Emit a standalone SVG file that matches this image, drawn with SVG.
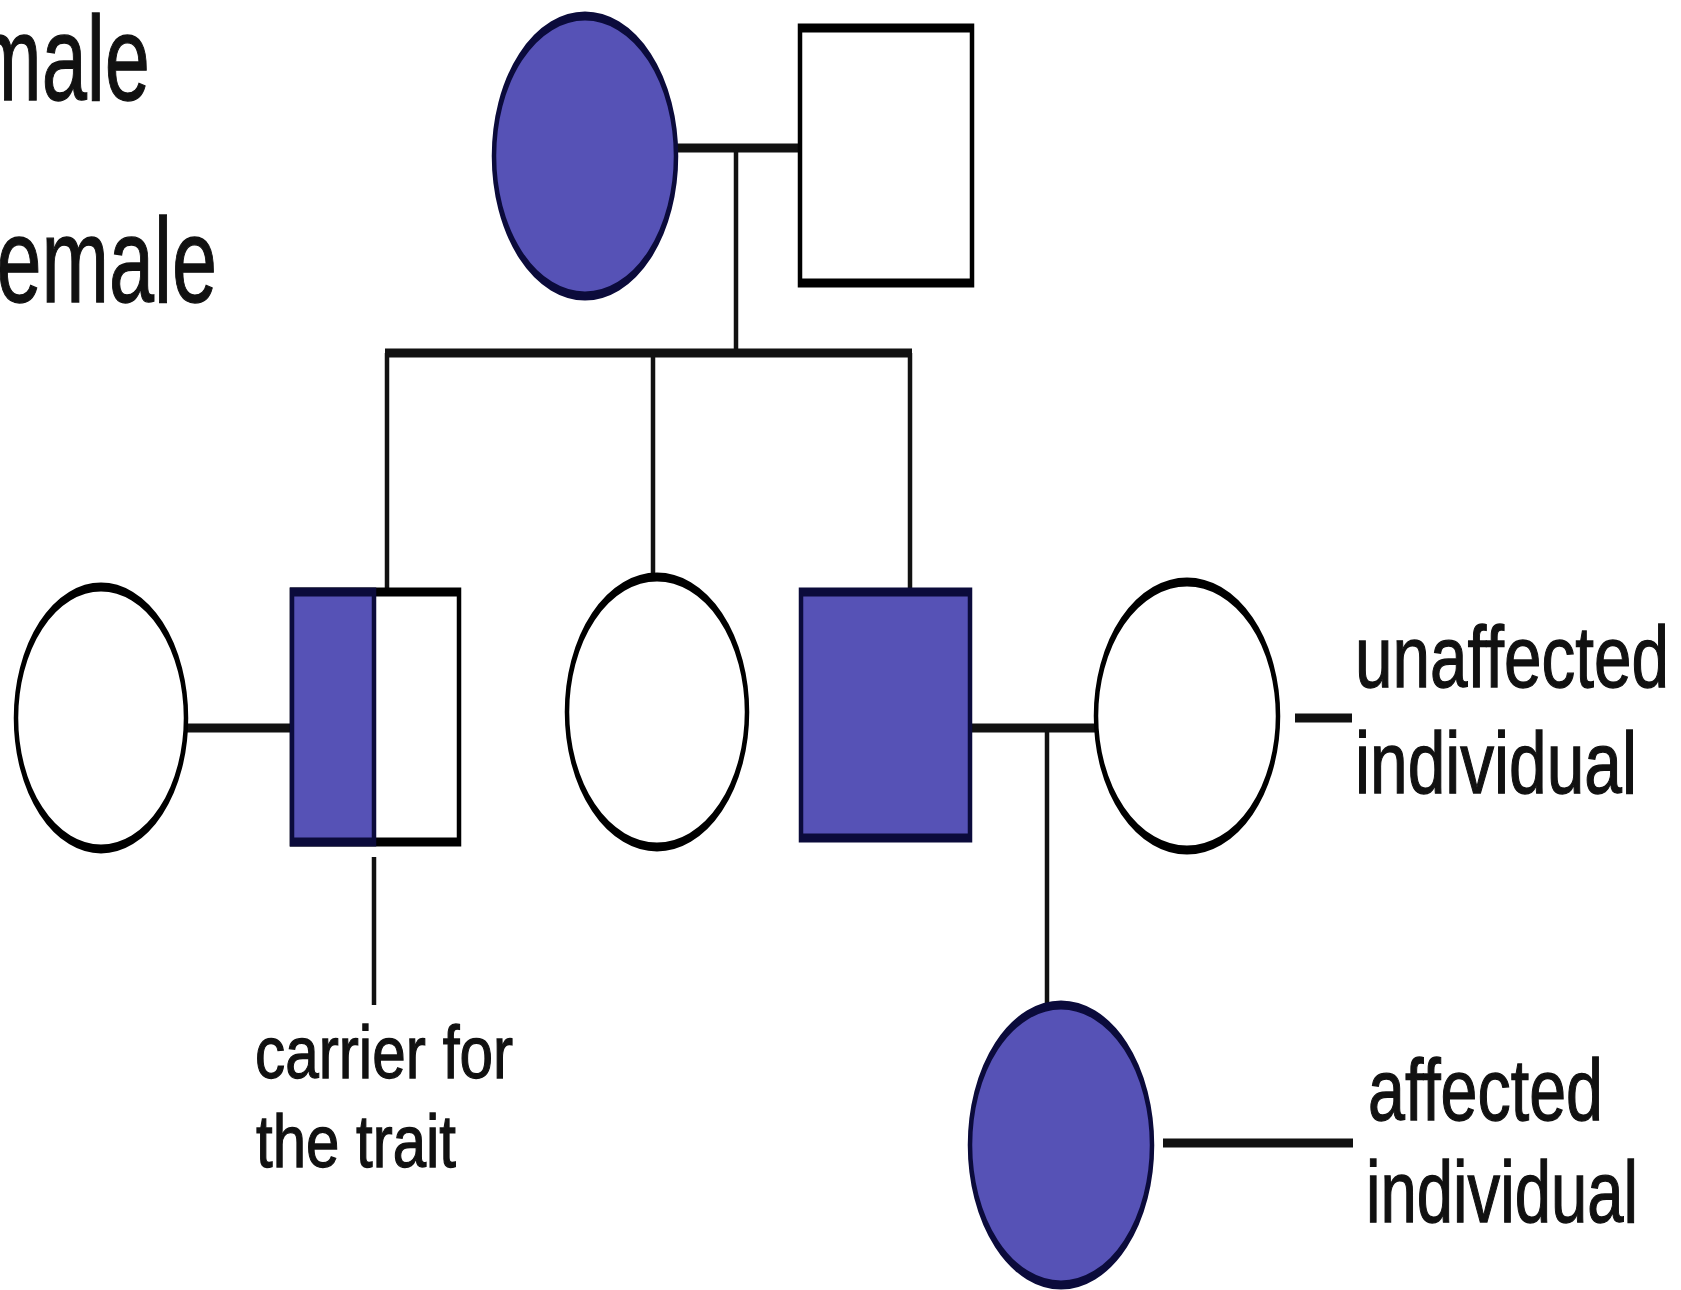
<svg xmlns="http://www.w3.org/2000/svg" width="1681" height="1290" viewBox="0 0 1681 1290">
  <style>
    .aff { fill: #5652B6; stroke: #0B0B3B; stroke-width: 4.5; }
    .una { fill: #FFFFFF; stroke: #000000; stroke-width: 4.5; }
    .half { fill: #5652B6; stroke: none; }
    .ln { fill: none; stroke: #111111; stroke-width: 4.5; }
    .lbl { font-family: "Liberation Sans", Arial, sans-serif; fill: #111111; stroke: #111111; stroke-width: 1.3; }
  </style>
  <rect x="0" y="0" width="1681" height="1290" fill="#FFFFFF"/>

  <g id="legend-text" class="lbl">
    <text x="-26" y="100" font-size="120" textLength="176" lengthAdjust="spacingAndGlyphs">male</text>
    <text x="-26" y="302" font-size="120" textLength="243" lengthAdjust="spacingAndGlyphs">female</text>
  </g>

  <g id="pedigree" transform="scale(1,2)">
    <g id="connectors">
      <line class="ln" x1="676" y1="74" x2="800" y2="74"/>
      <line class="ln" x1="736" y1="74" x2="736" y2="176.5"/>
      <line class="ln" x1="385" y1="176.5" x2="912" y2="176.5"/>
      <line class="ln" x1="387" y1="176.5" x2="387" y2="296"/>
      <line class="ln" x1="653" y1="176.5" x2="653" y2="288.5"/>
      <line class="ln" x1="910" y1="176.5" x2="910" y2="296"/>
      <line class="ln" x1="186" y1="364" x2="292" y2="364"/>
      <line class="ln" x1="970" y1="364" x2="1096" y2="364"/>
      <line class="ln" x1="1047" y1="364" x2="1047" y2="502.5"/>
      <line class="ln" x1="374" y1="428.5" x2="374" y2="502.5"/>
      <line class="ln" x1="1295" y1="359" x2="1352" y2="359"/>
      <line class="ln" x1="1163" y1="571.5" x2="1353" y2="571.5"/>
    </g>

    <g id="grandmother">
      <ellipse class="aff" cx="585" cy="78" rx="91" ry="70"/>
    </g>
    <g id="grandfather">
      <rect class="una" x="800" y="14" width="172" height="127.5"/>
    </g>
    <g id="daughter-in-law">
      <ellipse class="una" cx="101" cy="359" rx="85" ry="65.5"/>
    </g>
    <g id="carrier-son">
      <rect class="una" x="292" y="296" width="167" height="125"/>
      <rect class="half" x="294" y="297" width="80" height="123"/>
      <rect fill="none" stroke="#0B0B3B" stroke-width="4.5" x="292" y="296" width="82" height="125"/>
    </g>
    <g id="daughter">
      <ellipse class="una" cx="657" cy="356" rx="90" ry="67.5"/>
    </g>
    <g id="affected-son">
      <rect class="aff" x="801" y="296" width="169" height="123"/>
    </g>
    <g id="wife">
      <ellipse class="una" cx="1187" cy="358" rx="91" ry="67"/>
    </g>
    <g id="granddaughter">
      <ellipse class="aff" cx="1061" cy="572.5" rx="91" ry="70"/>
    </g>
  </g>

  <g id="labels" class="lbl">
    <text x="255" y="1078" font-size="75" textLength="258" lengthAdjust="spacingAndGlyphs">carrier for</text>
    <text x="256" y="1167" font-size="75" textLength="200" lengthAdjust="spacingAndGlyphs">the trait</text>
    <text x="1355" y="687" font-size="88" textLength="314" lengthAdjust="spacingAndGlyphs">unaffected</text>
    <text x="1355" y="793" font-size="88" textLength="282" lengthAdjust="spacingAndGlyphs">individual</text>
    <text x="1368" y="1120" font-size="88" textLength="235" lengthAdjust="spacingAndGlyphs">affected</text>
    <text x="1366" y="1222" font-size="88" textLength="272" lengthAdjust="spacingAndGlyphs">individual</text>
  </g>
</svg>
